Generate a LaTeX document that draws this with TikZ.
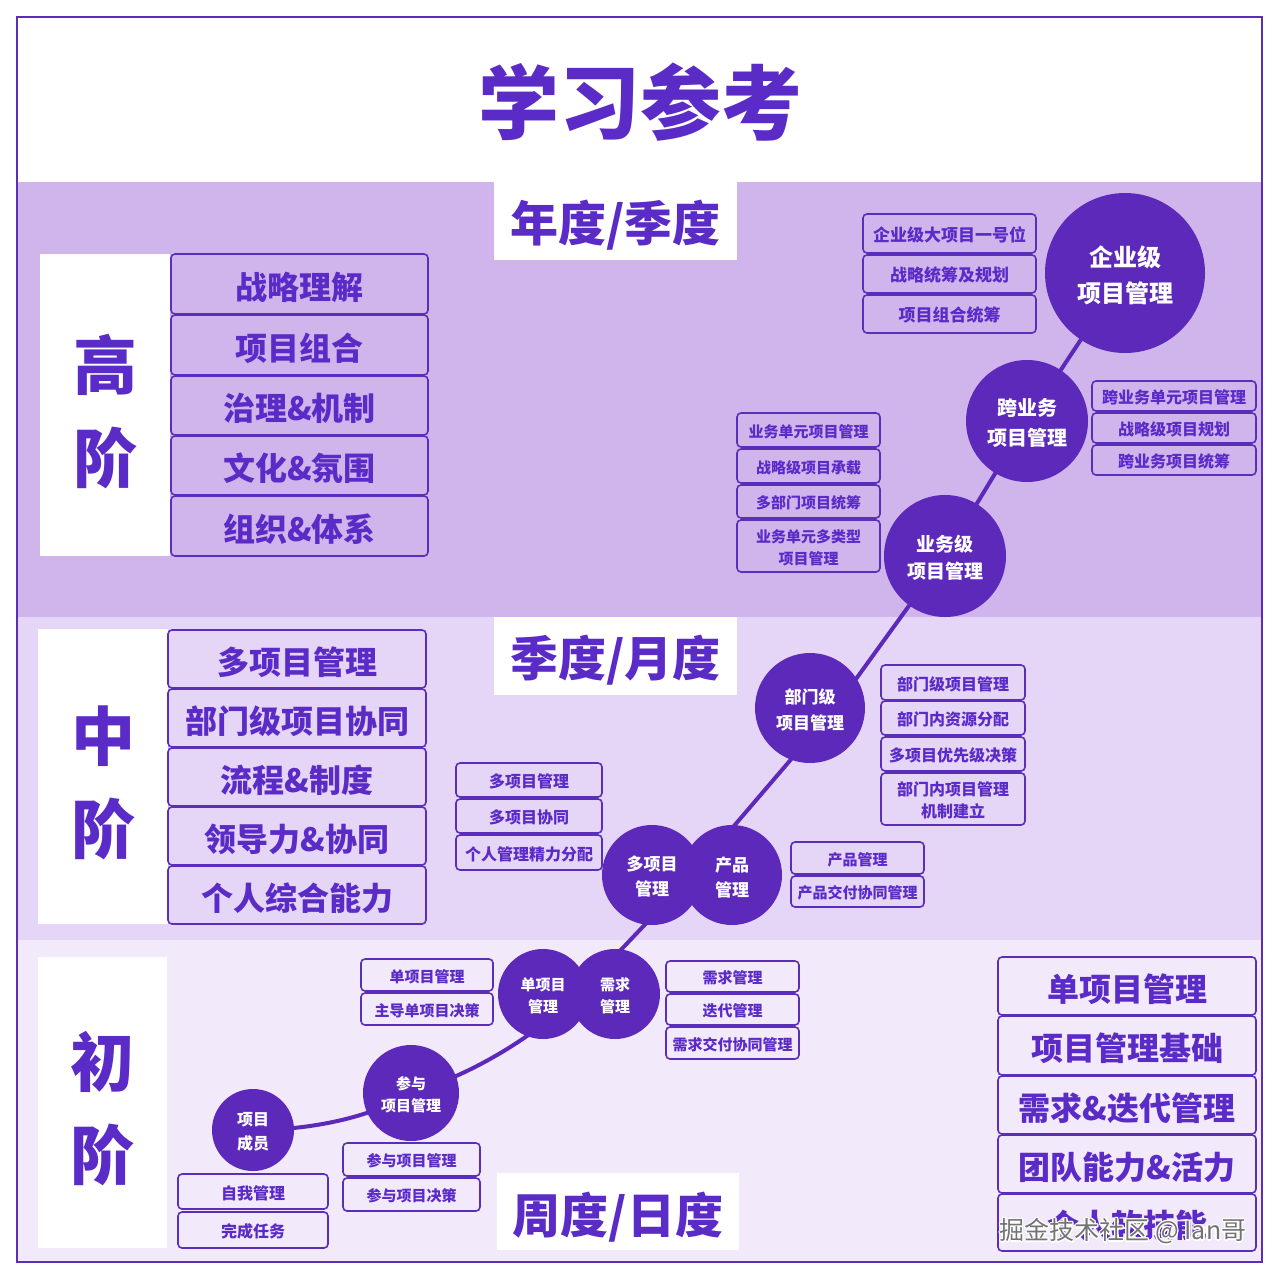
\documentclass[tikz,border=0pt]{standalone}
\usepackage{fontspec}
\usepackage{contour}
\setmainfont{Noto Sans CJK SC}
\definecolor{pc}{HTML}{5B2BC8}
\definecolor{bc}{HTML}{5A2EB8}
\definecolor{cc}{HTML}{5C29BA}
\definecolor{bandA}{HTML}{D0B5EC}
\definecolor{bandB}{HTML}{E5D5F6}
\definecolor{bandC}{HTML}{F2E9FB}
\newcommand\mkbox[7]{\node[bx,minimum width={#5-#3},minimum height={#6-#4}] (#2) at ({(#3+#5)/2},{(#4+#6)/2}) {};
  \node[bxt,#1] (#2t) at (#2.center) {#7};}
\begin{document}
\begin{tikzpicture}[x=1pt,y=-1pt,
  bx/.style={draw=bc, line width=1.6, rounded corners=4, inner sep=0},
  bxt/.style={text=pc, inner sep=0, align=center},
  bigt/.style={font=\fontsize{32}{38}\selectfont\bfseries, yshift=-3},
  smA/.style={font=\fontsize{17}{22}\selectfont\bfseries, yshift=-1.5},
  smB/.style={font=\fontsize{16}{22}\selectfont\bfseries, yshift=-1.5},
  smC/.style={font=\fontsize{15}{22}\selectfont\bfseries, yshift=-1.5},
  wbox/.style={fill=white, inner sep=0},
  period/.style={text=pc, inner sep=0, font=\fontsize{48}{52}\selectfont\bfseries},
  lvl/.style={text=pc, inner sep=0, align=center, font=\fontsize{64}{93}\selectfont\bfseries},
  circ/.style={circle, fill=cc, inner sep=0, minimum size=#1},
  ctext/.style={text=white, align=center, inner sep=0, yshift=-2},
  conn/.style={draw=cc, line width=4},
]
\useasboundingbox (0,0) rectangle (1280,1280);
\fill[white] (0,0) rectangle (1280,1280);
\fill[bandA] (17,182) rectangle (1262,617);
\fill[bandB] (17,617) rectangle (1262,940);
\fill[bandC] (17,940) rectangle (1262,1262);
\draw[bc, line width=1.5] (17,17) rectangle (1262,1262);

% title
\node[text=pc, font=\fontsize{81}{84}\selectfont\bfseries] (title) at (640,102) {学习参考};

% period labels
\node[wbox, minimum width=243, minimum height=78] (p1) at (615.5,221) {};
\node[period] (p1t) at (615.5,225) {年度/季度};
\node[wbox, minimum width=243, minimum height=78] (p2) at (615.5,656) {};
\node[period] (p2t) at (615.5,660) {季度/月度};
\node[wbox, minimum width=242, minimum height=77] (p3) at (618,1211.5) {};
\node[period] (p3t) at (618,1217) {周度/日度};

% level labels
\node[wbox, minimum width=130, minimum height=302] (L1) at (105,405) {};
\node[lvl] (L1t) at (105,412) {高\\阶};
\node[wbox, minimum width=130, minimum height=295] (L2) at (103,776.5) {};
\node[lvl] (L2t) at (103,783) {中\\阶};
\node[wbox, minimum width=129, minimum height=291] (L3) at (102.5,1102.5) {};
\node[lvl] (L3t) at (102.5,1109) {初\\阶};

% high stack
\mkbox{bigt}{h1}{171}{254}{428}{314}{战略理解}
\mkbox{bigt}{h2}{171}{315}{428}{375}{项目组合}
\mkbox{bigt}{h3}{171}{376}{428}{435}{治理\&机制}
\mkbox{bigt}{h4}{171}{436}{428}{495}{文化\&氛围}
\mkbox{bigt}{h5}{171}{496}{428}{556}{组织\&体系}
% middle stack
\mkbox{bigt}{m1}{168}{630}{426}{688}{多项目管理}
\mkbox{bigt}{m2}{168}{689}{426}{747}{部门级项目协同}
\mkbox{bigt}{m3}{168}{748}{426}{806}{流程\&制度}
\mkbox{bigt}{m4}{168}{807}{426}{865}{领导力\&协同}
\mkbox{bigt}{m5}{168}{866}{426}{924}{个人综合能力}
% low stack (right)
\mkbox{bigt}{b1}{998}{957}{1256}{1015}{单项目管理}
\mkbox{bigt}{b2}{998}{1016}{1256}{1075}{项目管理基础}
\mkbox{bigt}{b3}{998}{1076}{1256}{1134}{需求\&迭代管理}
\mkbox{bigt}{b4}{998}{1135}{1256}{1193}{团队能力\&活力}
\mkbox{bigt}{b5}{998}{1194}{1256}{1251}{个人软技能}

% small stacks
\mkbox{smA}{a1}{863}{214}{1036}{253}{企业级大项目一号位}
\mkbox{smA}{a2}{863}{255}{1036}{293}{战略统筹及规划}
\mkbox{smA}{a3}{863}{295}{1036}{333}{项目组合统筹}

\mkbox{smB}{x1}{1092}{381}{1256}{411}{跨业务单元项目管理}
\mkbox{smB}{x2}{1092}{413}{1256}{443}{战略级项目规划}
\mkbox{smB}{x3}{1092}{445}{1256}{475}{跨业务项目统筹}

\mkbox{smC}{u1}{737}{413}{880}{447}{业务单元项目管理}
\mkbox{smC}{u2}{737}{449}{880}{483}{战略级项目承载}
\mkbox{smC}{u3}{737}{485}{880}{518}{多部门项目统筹}
\mkbox{smC}{u4}{737}{520}{880}{572}{业务单元多类型\\项目管理}

\mkbox{smB}{d1}{881}{665}{1025}{700}{部门级项目管理}
\mkbox{smB}{d2}{881}{701}{1025}{735}{部门内资源分配}
\mkbox{smB}{d3}{881}{737}{1025}{771}{多项目优先级决策}
\mkbox{smB}{d4}{881}{773}{1025}{825}{部门内项目管理\\机制建立}

\mkbox{smB}{e1}{456}{763}{602}{797}{多项目管理}
\mkbox{smB}{e2}{456}{799}{602}{833}{多项目协同}
\mkbox{smB}{e3}{456}{835}{602}{870}{个人管理精力分配}

\mkbox{smC}{f1}{791}{842}{924}{874}{产品管理}
\mkbox{smC}{f2}{791}{876}{924}{907}{产品交付协同管理}

\mkbox{smC}{g1}{361}{959}{493}{991}{单项目管理}
\mkbox{smC}{g2}{361}{993}{493}{1025}{主导单项目决策}

\mkbox{smC}{q1}{666}{961}{799}{992}{需求管理}
\mkbox{smC}{q2}{666}{994}{799}{1025}{迭代管理}
\mkbox{smC}{q3}{666}{1027}{799}{1059}{需求交付协同管理}

\mkbox{smC}{r1}{343}{1143}{480}{1176}{参与项目管理}
\mkbox{smC}{r2}{343}{1178}{480}{1211}{参与项目决策}

\mkbox{smB}{s1}{178}{1174}{328}{1209}{自我管理}
\mkbox{smB}{s2}{178}{1212}{328}{1248}{完成任务}

% path coordinates
\coordinate (cE) at (1125,273);
\coordinate (cX) at (1027,421);
\coordinate (cB) at (945,556);
\coordinate (kD) at (835,708);
\coordinate (cD) at (810,708);
\coordinate (cM) at (652,875);
\coordinate (cP) at (732,875);
\coordinate (J1) at (692,875);
\coordinate (cS) at (543,994);
\coordinate (cR) at (615,994);
\coordinate (J2) at (579,994);
\coordinate (cA) at (411,1093);
\coordinate (cY) at (253,1130);

\draw[conn] (cE) -- (cX) -- (cB) -- (kD) -- (J1) -- (J2);
\draw[conn] (J2) .. controls (530,1040) and (470,1075) .. (cA);
\draw[conn] (cA) .. controls (370,1118) and (310,1130) .. (cY);

% circles
\node[circ=160] (E) at (cE) {};
\node[ctext, font=\fontsize{24}{36}\selectfont\bfseries] (Et) at (cE) {企业级\\项目管理};
\node[circ=122] (X) at (cX) {};
\node[ctext, font=\fontsize{20}{30}\selectfont\bfseries] (Xt) at (cX) {跨业务\\项目管理};
\node[circ=122] (B) at (cB) {};
\node[ctext, font=\fontsize{19}{27}\selectfont\bfseries] (Bt) at (cB) {业务级\\项目管理};
\node[circ=110] (D) at (cD) {};
\node[ctext, font=\fontsize{17}{26}\selectfont\bfseries] (Dt) at (cD) {部门级\\项目管理};
\node[circ=100] (M) at (cM) {};
\node[circ=100] (P) at (cP) {};
\node[ctext, font=\fontsize{17}{25}\selectfont\bfseries] (Mt) at (cM) {多项目\\管理};
\node[ctext, font=\fontsize{17}{25}\selectfont\bfseries] (Pt) at (cP) {产品\\管理};
\node[circ=90] (S) at (cS) {};
\node[circ=90] (R) at (cR) {};
\node[ctext, font=\fontsize{15}{22}\selectfont\bfseries] (St) at (cS) {单项目\\管理};
\node[ctext, font=\fontsize{15}{22}\selectfont\bfseries] (Rt) at (cR) {需求\\管理};
\node[circ=96] (A) at (cA) {};
\node[ctext, font=\fontsize{15}{22}\selectfont\bfseries] (At) at (cA) {参与\\项目管理};
\node[circ=82] (Y) at (cY) {};
\node[ctext, font=\fontsize{16}{24}\selectfont\bfseries] (Yt) at (cY) {项目\\成员};

% watermark
\contourlength{1.2pt}
\node[text=black!55, font=\fontsize{25}{25}\selectfont] (wm) at (1123,1232) {\contour{white}{掘金技术社区 @ Ian哥}};
\end{tikzpicture}
\end{document}
